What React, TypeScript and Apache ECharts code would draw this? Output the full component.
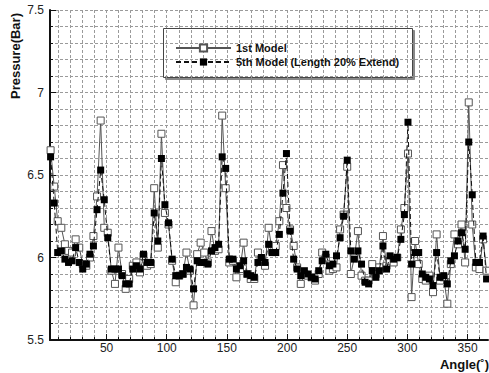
import React, { useEffect, useRef } from "react";
import * as echarts from "echarts";

const angles = [
  3.5, 6.5, 9.4, 12.4, 15.4, 18.4, 21.3, 24.3, 27.3, 30.2, 33.2, 36.2, 39.1, 42.1, 45.1, 48.1, 51.0, 54.0, 57.0, 59.9,
  62.9, 65.9, 68.8, 71.8, 74.8, 77.8, 80.7, 83.7, 86.7, 89.6, 92.6, 95.6, 98.5, 101.5, 104.5, 107.5, 110.4, 113.4, 116.4, 119.3,
  122.3, 125.3, 128.2, 131.2, 134.2, 137.2, 140.1, 143.1, 146.1, 149.0, 152.0, 155.0, 157.9, 160.9, 163.9, 166.9, 169.8, 172.8, 175.8, 178.7,
  181.7, 184.7, 187.6, 190.6, 193.6, 196.6, 199.5, 202.5, 205.5, 208.4, 211.4, 214.4, 217.3, 220.3, 223.3, 226.3, 229.2, 232.2, 235.2, 238.1,
  241.1, 244.1, 247.0, 250.0, 253.0, 255.9, 258.9, 261.9, 264.9, 267.8, 270.8, 273.8, 276.7, 279.7, 282.7, 285.6, 288.6, 291.6, 294.6, 297.5,
  300.5, 303.5, 306.4, 309.4, 312.4, 315.3, 318.3, 321.3, 324.3, 327.2, 330.2, 333.2, 336.1, 339.1, 342.1, 345.0, 348.0, 351.0, 353.9, 356.9,
  359.9, 362.9, 365.8,
];

const model1 = [
  6.65, 6.43, 6.22, 6.18, 6.08, 6.04, 6.03, 6.11, 6.06, 5.96, 5.95, 6.0, 6.13, 6.37, 6.83, 6.18, 6.15, 5.92, 5.84, 6.06,
  5.9, 5.81, 5.87, 5.95, 5.97, 5.91, 6.01, 5.95, 5.96, 6.42, 6.06, 6.75, 6.27, 6.2, 5.98, 5.85, 5.89, 5.9, 6.03, 5.92,
  5.71, 6.02, 6.09, 6.03, 5.97, 6.16, 6.04, 6.05, 6.86, 6.42, 5.97, 5.98, 5.88, 5.93, 6.09, 5.9, 5.87, 5.87, 6.03, 5.99,
  5.95, 6.18, 6.04, 6.07, 6.22, 6.56, 6.3, 6.17, 6.07, 5.94, 5.84, 5.9, 5.89, 5.88, 5.86, 5.9, 6.03, 6.0, 5.92, 5.93,
  5.94, 6.17, 6.26, 6.55, 5.9, 6.0, 6.16, 5.89, 5.86, 5.86, 5.96, 5.9, 5.94, 6.13, 5.95, 5.98, 5.97, 6.0, 6.17, 6.3,
  6.63, 5.76, 6.1, 5.96, 5.87, 5.86, 5.89, 5.79, 6.14, 5.86, 5.88, 5.72, 5.96, 6.14, 6.08, 6.2, 5.97, 6.94, 6.2, 5.94,
  5.93, 6.11, 5.92,
];

const model5 = [
  6.61, 6.33, 6.03, 6.04, 5.99, 5.97, 5.98, 6.06, 5.97, 5.93, 5.96, 6.02, 6.07, 6.29, 6.53, 6.35, 6.12, 5.93, 5.93, 5.93,
  5.89, 5.84, 5.84, 5.93, 5.95, 5.93, 6.02, 5.97, 5.97, 6.27, 6.1, 6.6, 6.32, 6.21, 5.99, 5.89, 5.89, 5.9, 5.94, 5.93,
  5.81, 5.98, 5.97, 5.97, 5.96, 6.04, 6.06, 6.08, 6.61, 6.54, 5.99, 5.99, 5.93, 5.95, 5.98, 5.9, 5.89, 5.88, 5.97, 6.0,
  5.97, 6.08, 6.03, 6.03, 6.14, 6.39, 6.63, 6.16, 5.99, 5.93, 5.89, 5.92, 5.9, 5.88, 5.87, 5.92, 5.98, 6.02, 5.95, 5.96,
  6.01, 6.12, 6.25, 6.59, 6.04, 5.99, 6.04, 5.96, 5.85, 5.84, 5.92, 5.88, 5.92, 6.07, 5.93, 6.01, 5.99, 6.0, 6.11, 6.26,
  6.82, 5.96, 6.03, 6.03, 5.9, 5.88, 5.87, 5.83, 6.03, 5.88, 5.89, 5.84, 5.98, 6.01, 6.1, 6.15, 6.05, 6.7, 6.38, 5.97,
  5.97, 6.13, 5.87,
];

const xLabelValues = [50, 100, 150, 200, 250, 300, 350];
const xGridValues = [
  10, 20, 30, 40, 50, 60, 70, 80, 90, 100, 110, 120, 130, 140, 150, 160, 170, 180,
  190, 200, 210, 220, 230, 240, 250, 260, 270, 280, 290, 300, 310, 320, 330, 340, 350, 360,
];

const seriesNames = ["1st Model", "5th Model (Length 20% Extend)"];
const FONT = "'Liberation Sans', Arial, sans-serif";

export default function App() {
  const ref = useRef<HTMLDivElement>(null);

  useEffect(() => {
    if (!ref.current) return;
    const chart = echarts.init(ref.current, null, { renderer: "svg" });
    const gridLine = { color: "#9a9a9a", width: 1, type: [3, 2] as any };
    chart.setOption({
      animation: false,
      backgroundColor: "#ffffff",
      grid: { left: 50, right: 1, top: 10, bottom: 33, containLabel: false },
      legend: {
        data: seriesNames,
        orient: "vertical",
        left: 175,
        top: 41,
        padding: 0,
        itemGap: 0,
        itemWidth: 55,
        itemHeight: 9,
        textStyle: { fontFamily: FONT, fontSize: 11, fontWeight: "bold", color: "#111", lineHeight: 14 },
      },
      graphic: [
        {
          type: "rect",
          left: 163,
          top: 28,
          z: 0,
          shape: { width: 249, height: 49 },
          style: { fill: "#fff", stroke: "#444", lineWidth: 1, shadowColor: "#888", shadowOffsetX: 2, shadowOffsetY: 2, shadowBlur: 0 },
        },
        {
          type: "text",
          x: 15,
          y: 56,
          rotation: Math.PI / 2,
          style: { text: "Pressure(Bar)", fontFamily: FONT, fontSize: 13, fontWeight: "bold", fill: "#111", align: "center", verticalAlign: "middle" },
        },
        {
          type: "text",
          x: 489,
          y: 364,
          style: { text: "Angle(˚)", fontFamily: FONT, fontSize: 13, fontWeight: "bold", fill: "#111", align: "right", verticalAlign: "middle" },
        },
      ],
      xAxis: [
        {
          type: "value",
          min: 3,
          max: 367,
          position: "bottom",
          axisLine: { show: true, onZero: false, lineStyle: { color: "#111", width: 2 } },
          axisTick: { show: true, inside: true, length: 3, customValues: xGridValues, lineStyle: { color: "#111" } },
          axisLabel: { customValues: xLabelValues, margin: 2, fontFamily: FONT, fontSize: 12, color: "#222" },
          splitLine: { show: true, lineStyle: gridLine },
        },
        {
          type: "value",
          min: 3,
          max: 367,
          position: "bottom",
          axisLine: { show: false },
          axisTick: { show: true, inside: true, length: 6, customValues: xLabelValues, lineStyle: { color: "#111" } },
          axisLabel: { show: false },
          splitLine: { show: false },
        },
      ],
      yAxis: {
        type: "value",
        min: 5.5,
        max: 7.5,
        interval: 0.5,
        axisLine: { show: true, onZero: false, lineStyle: { color: "#111", width: 2 } },
        axisTick: { show: true, inside: true, length: 6, lineStyle: { color: "#111" } },
        minorTick: { show: true, splitNumber: 5, length: 3, lineStyle: { color: "#111" } },
        axisLabel: { margin: 6, fontFamily: FONT, fontSize: 12, color: "#222" },
        splitLine: { show: true, lineStyle: gridLine },
        minorSplitLine: { show: true, lineStyle: gridLine },
      },
      series: [
        {
          name: seriesNames[0],
          type: "line",
          xAxisIndex: 0,
          data: angles.map((a, i) => [a, model1[i]]),
          symbol: "rect",
          symbolSize: 7,
          lineStyle: { color: "#555", width: 1, type: "solid" },
          itemStyle: { color: "#ffffff", borderColor: "#555", borderWidth: 1 },
          z: 3,
        },
        {
          name: seriesNames[1],
          type: "line",
          xAxisIndex: 0,
          data: angles.map((a, i) => [a, model5[i]]),
          symbol: "rect",
          symbolSize: 7,
          lineStyle: { color: "#111", width: 1, type: [5, 3] },
          itemStyle: { color: "#000", borderColor: "#000", borderWidth: 0 },
          z: 4,
        },
      ],
    });
    return () => chart.dispose();
  }, []);

  return (
    <div
      ref={ref}
      style={{ position: "fixed", left: 0, top: 0, width: 489, height: 373, background: "#fff" }}
    />
  );
}
